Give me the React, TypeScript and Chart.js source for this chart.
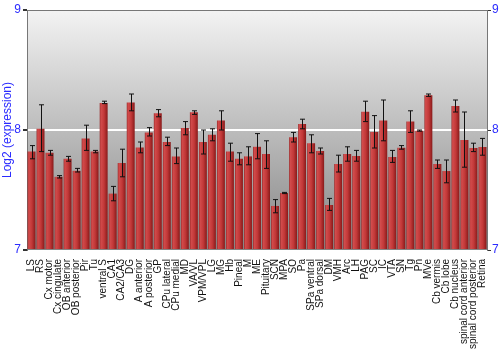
import React, { useEffect, useRef } from "react";
import { Chart, registerables } from "chart.js";

Chart.register(...registerables);

const categories = [
  "LS", "RS", "Cx motor", "Cx cingulate", "OB anterior", "OB posterior", "Pir", "Tu",
  "ventral S", "CA1", "CA2/CA3", "DG", "A anterior", "A posterior", "GP", "CPu lateral",
  "CPu medial", "MD", "VA/VL", "VPM/VPL", "LG", "MG", "Hb", "Pineal", "M", "ME",
  "Pituitary", "SCN", "MPA", "SO", "Pa", "SPa ventral", "SPa dorsal", "DM", "VMH", "Arc",
  "LH", "PAG", "SC", "IC", "VTA", "SN", "Tg", "Pn", "MVe", "Cb vermis", "Cb lobe",
  "Cb nucleus", "spinal cord anterior", "spinal cord posterior", "Retina",
];

const expression = [
  7.82, 8.01, 7.81, 7.61, 7.76, 7.66, 7.93, 7.82,
  8.225, 7.47, 7.725, 8.23, 7.855, 7.98, 8.14, 7.9,
  7.78, 8.017, 8.147, 7.9, 7.96, 8.08, 7.82, 7.76, 7.78, 7.86,
  7.8, 7.367, 7.475, 7.94, 8.05, 7.89, 7.825, 7.375, 7.717, 7.8,
  7.783, 8.153, 7.983, 8.08, 7.775, 7.853, 8.07, 7.994, 8.289, 7.717, 7.658,
  8.2, 7.917, 7.85, 7.858,
];

const errHigh = [
  7.87, 8.21, 7.83, 7.62, 7.78, 7.68, 8.04, 7.83,
  8.24, 7.53, 7.84, 8.3, 7.9, 8.02, 8.17, 7.94,
  7.85, 8.07, 8.16, 8.0, 8.01, 8.16, 7.89, 7.81, 7.86, 7.97,
  7.91, 7.42, 7.48, 7.98, 8.09, 7.96, 7.85, 7.43, 7.79, 7.86,
  7.83, 8.24, 8.12, 8.25, 7.83, 7.87, 8.16, 8.0, 8.3, 7.75, 7.75,
  8.25, 8.15, 7.89, 7.93,
];

const errLow = [
  7.76, 7.82, 7.79, 7.6, 7.74, 7.65, 7.83, 7.81,
  8.22, 7.41, 7.61, 8.16, 7.81, 7.95, 8.11, 7.87,
  7.72, 7.96, 8.13, 7.8, 7.91, 8.0, 7.74, 7.71, 7.71, 7.76,
  7.68, 7.31, 7.47, 7.9, 8.01, 7.81, 7.8, 7.33, 7.65, 7.74,
  7.74, 8.07, 7.85, 7.91, 7.73, 7.84, 7.98, 7.99, 8.28, 7.68, 7.56,
  8.15, 7.69, 7.82, 7.79,
];

const yTicks = [7, 8, 9];

const BLUE = "#2b2bff";
const FONT = "'Liberation Sans', Arial, sans-serif";

const bgPlugin = {
  id: "bgPlugin",
  beforeDraw(chart: any) {
    const { ctx, chartArea } = chart;
    if (!chartArea) return;
    const g = ctx.createLinearGradient(0, chartArea.top, 0, chartArea.bottom);
    g.addColorStop(0, "#f3f3f3");
    g.addColorStop(1, "#858585");
    ctx.save();
    ctx.fillStyle = g;
    ctx.fillRect(chartArea.left, chartArea.top, chartArea.right - chartArea.left, chartArea.bottom - chartArea.top);
    ctx.restore();
  },
  afterDatasetsDraw(chart: any) {
    const { ctx, chartArea } = chart;
    const xs = chart.scales.x;
    const ys = chart.scales.y;
    ctx.save();
    ctx.strokeStyle = "#111";
    ctx.lineWidth = 1;
    const cap = 2.5;
    for (let i = 0; i < categories.length; i++) {
      const cx = Math.round(xs.getPixelForValue(i)) + 0.5;
      const yh = ys.getPixelForValue(errHigh[i]);
      const yl = ys.getPixelForValue(errLow[i]);
      ctx.beginPath();
      ctx.moveTo(cx, yh);
      ctx.lineTo(cx, yl);
      ctx.moveTo(cx - cap, yh);
      ctx.lineTo(cx + cap, yh);
      ctx.moveTo(cx - cap, yl);
      ctx.lineTo(cx + cap, yl);
      ctx.stroke();
    }
    // top border
    ctx.strokeStyle = "#777";
    ctx.beginPath();
    ctx.moveTo(chartArea.left, chartArea.top + 0.5);
    ctx.lineTo(chartArea.right, chartArea.top + 0.5);
    ctx.stroke();
    ctx.restore();
  },
};

export default function App() {
  const ref = useRef<HTMLCanvasElement | null>(null);
  useEffect(() => {
    if (!ref.current) return;
    const chart = new Chart(ref.current, {
      type: "bar",
      data: {
        labels: categories,
        datasets: [
          {
            data: expression,
            base: 7,
            barPercentage: 0.88,
            categoryPercentage: 1,
            borderWidth: 0,
            backgroundColor: (c: any) => {
              const chart = c.chart;
              const xs = chart.scales && chart.scales.x;
              if (!chart.chartArea || !xs) return "#b83232";
              const cx = xs.getPixelForValue(c.dataIndex);
              const w = (chart.chartArea.right - chart.chartArea.left) / categories.length * 0.88;
              const g = chart.ctx.createLinearGradient(cx - w / 2, 0, cx + w / 2, 0);
              g.addColorStop(0, "#962626");
              g.addColorStop(0.15, "#d24c4c");
              g.addColorStop(0.55, "#c23838");
              g.addColorStop(1, "#881a1a");
              return g;
            },
          } as any,
        ],
      },
      options: {
        animation: false,
        responsive: true,
        maintainAspectRatio: false,
        layout: { padding: { top: 10, left: 0, right: 0, bottom: 0 } },
        plugins: { legend: { display: false }, tooltip: { enabled: false } },
        scales: {
          x: {
            type: "category",
            grid: { display: false },
            border: { display: false },
            ticks: {
              autoSkip: false,
              maxRotation: 90,
              minRotation: 90,
              padding: 1,
              color: "#111",
              font: { family: FONT, size: 10 },
            },
            afterFit: (s: any) => { s.height = 100; },
          },
          y: {
            min: 7,
            max: 9,
            afterBuildTicks: (s: any) => { s.ticks = yTicks.map((v) => ({ value: v })); },
            ticks: { color: BLUE, padding: 2, font: { family: FONT, size: 12 } },
            title: { display: true, text: "Log2 (expression)", color: BLUE, padding: 0, font: { family: FONT, size: 12 } },
            grid: {
              color: (c: any) => (c.tick && c.tick.value === 8 ? "#ffffff" : "rgba(0,0,0,0)"),
              lineWidth: 2,
              tickColor: "#333",
              tickLength: 4,
            },
            border: { color: "#777", width: 1 },
            afterFit: (s: any) => { s.width = 27; },
          },
          y2: {
            position: "right",
            min: 7,
            max: 9,
            afterBuildTicks: (s: any) => { s.ticks = yTicks.map((v) => ({ value: v })); },
            ticks: { color: BLUE, padding: 1, font: { family: FONT, size: 12 } },
            grid: { drawOnChartArea: false, tickColor: "#333", tickLength: 4 },
            border: { color: "#777", width: 1 },
            afterFit: (s: any) => { s.width = 13; },
          },
        },
      } as any,
      plugins: [bgPlugin],
    });
    return () => chart.destroy();
  }, []);
  return (
    <div style={{ position: "absolute", left: 0, top: 0, width: 500, height: 350, background: "#fff" }}>
      <canvas ref={ref} />
    </div>
  );
}
